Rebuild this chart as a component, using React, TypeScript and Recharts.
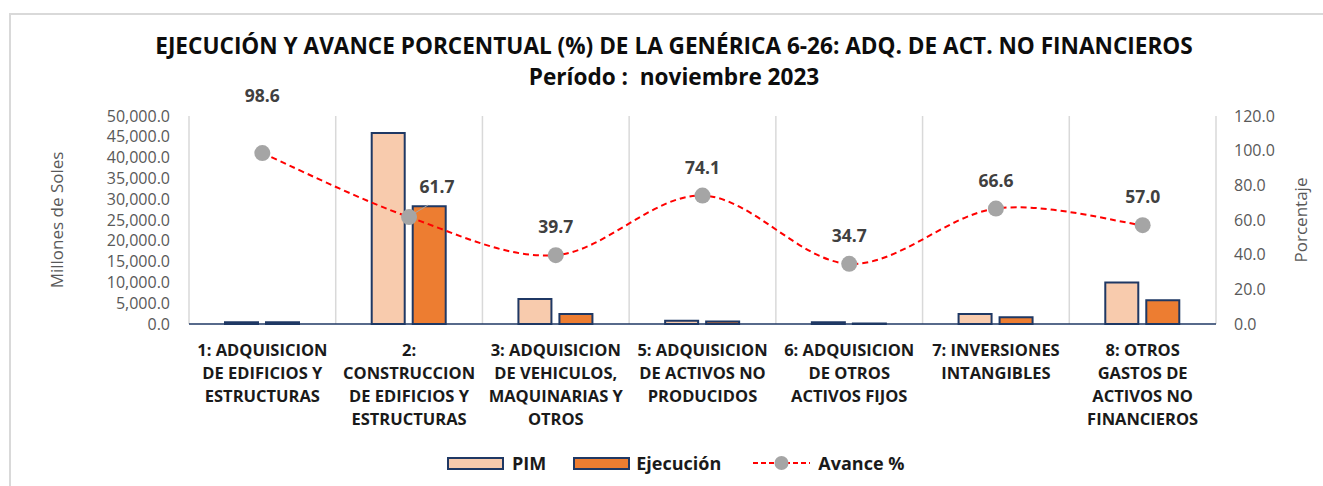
import React from 'react';
import { ComposedChart, Bar, Line, XAxis, YAxis, CartesianGrid, Legend, LabelList } from 'recharts';

const categories = [
  '1: ADQUISICION DE EDIFICIOS Y ESTRUCTURAS',
  '2: CONSTRUCCION DE EDIFICIOS Y ESTRUCTURAS',
  '3: ADQUISICION DE VEHICULOS, MAQUINARIAS Y OTROS',
  '5: ADQUISICION DE ACTIVOS NO PRODUCIDOS',
  '6: ADQUISICION DE OTROS ACTIVOS FIJOS',
  '7: INVERSIONES INTANGIBLES',
  '8: OTROS GASTOS DE ACTIVOS NO FINANCIEROS',
];
const categoryLines = [
  ['1: ADQUISICION', 'DE EDIFICIOS Y', 'ESTRUCTURAS'],
  ['2:', 'CONSTRUCCION', 'DE EDIFICIOS Y', 'ESTRUCTURAS'],
  ['3: ADQUISICION', 'DE VEHICULOS,', 'MAQUINARIAS Y', 'OTROS'],
  ['5: ADQUISICION', 'DE ACTIVOS NO', 'PRODUCIDOS'],
  ['6: ADQUISICION', 'DE OTROS', 'ACTIVOS FIJOS'],
  ['7: INVERSIONES', 'INTANGIBLES'],
  ['8: OTROS', 'GASTOS DE', 'ACTIVOS NO', 'FINANCIEROS'],
];
const pim = [400, 45900, 6000, 800, 400, 2400, 10000];
const ejecucion = [395, 28300, 2380, 590, 140, 1600, 5700];
const avance = [98.6, 61.7, 39.7, 74.1, 34.7, 66.6, 57.0];
const leftTicks = [0, 5000, 10000, 15000, 20000, 25000, 30000, 35000, 40000, 45000, 50000];
const rightTicks = [0, 20, 40, 60, 80, 100, 120];

const data = categories.map((name, i) => ({
  name,
  lines: categoryLines[i],
  pim: pim[i],
  ejecucion: ejecucion[i],
  avance: avance[i],
}));

const FONT = '"Open Sans", sans-serif';

// Excel-like smoothed line (Catmull-Rom style cardinal spline)
function excelCurve(context: any) {
  let pts: [number, number][] = [];
  return {
    areaStart() {},
    areaEnd() {},
    lineStart() {
      pts = [];
    },
    lineEnd() {
      if (!pts.length) return;
      context.moveTo(pts[0][0], pts[0][1]);
      const k = 1 / 6;
      for (let i = 0; i < pts.length - 1; i++) {
        const p0 = pts[Math.max(0, i - 1)];
        const p1 = pts[i];
        const p2 = pts[i + 1];
        const p3 = pts[Math.min(pts.length - 1, i + 2)];
        context.bezierCurveTo(
          p1[0] + k * (p2[0] - p0[0]),
          p1[1] + k * (p2[1] - p0[1]),
          p2[0] - k * (p3[0] - p1[0]),
          p2[1] - k * (p3[1] - p1[1]),
          p2[0],
          p2[1]
        );
      }
    },
    point(x: number, y: number) {
      pts.push([+x, +y]);
    },
  };
}

const CategoryTick = (props: any) => {
  const { x, y, payload, index } = props;
  const lines = categoryLines[index] || [String(payload.value)];
  return (
    <text x={x} y={y + 24} textAnchor="middle" fill="#1a1a1a" fontSize={16.5} fontWeight={700} fontFamily={FONT}>
      {lines.map((l: string, i: number) => (
        <tspan key={i} x={x} dy={i === 0 ? 0 : 23}>
          {l}
        </tspan>
      ))}
    </text>
  );
};

const AvanceLabel = (props: any) => {
  const { x, y, value, index } = props;
  let dx = 0;
  let dy = -28;
  if (index === 0) dy = -57;
  if (index === 1) {
    dx = 28;
    dy = -30;
  }
  return (
    <g>
      {index === 1 && (
        <line x1={x + 4} y1={y - 3} x2={x + 19} y2={y - 12} stroke="#a5a5a5" strokeWidth={1} />
      )}
      <text
        x={x + dx}
        y={y + dy}
        dy="0.35em"
        textAnchor="middle"
        fill="#404040"
        fontSize={17.5}
        fontWeight={700}
        fontFamily={FONT}
      >
        {Number(value).toFixed(1)}
      </text>
    </g>
  );
};

const LegendContent = () => {
  const txt: React.CSSProperties = { fontFamily: FONT, fontWeight: 700, fontSize: 18, color: '#1a1a1a', lineHeight: '26px' };
  const sw = (bg: string): React.CSSProperties => ({
    width: 53,
    height: 9,
    background: bg,
    border: '2px solid #1f3864',
  });
  return (
    <div style={{ display: 'flex', alignItems: 'center', height: 26 }}>
      <div style={sw('#f8cbad')} />
      <span style={{ ...txt, marginLeft: 8 }}>PIM</span>
      <div style={{ ...sw('#ed7d31'), marginLeft: 27 }} />
      <span style={{ ...txt, marginLeft: 6 }}>Ejecución</span>
      <svg width={57} height={18} style={{ marginLeft: 32 }}>
        <line x1={0} y1={9} x2={57} y2={9} stroke="#ff0000" strokeWidth={2} strokeDasharray="5 3" />
        <circle cx={28.5} cy={9} r={7} fill="#a5a5a5" />
      </svg>
      <span style={{ ...txt, marginLeft: 8 }}>Avance %</span>
    </div>
  );
};

const fmt = (v: number) => v.toLocaleString('en-US', { minimumFractionDigits: 1, maximumFractionDigits: 1 });

export default function App() {
  return (
    <div
      style={{
        position: 'absolute',
        left: 0,
        top: 0,
        width: 1323,
        height: 486,
        overflow: 'hidden',
        background: '#fff',
      }}
    >
      <div
        style={{
          position: 'absolute',
          left: 9,
          top: 13,
          width: 1330,
          height: 500,
          borderLeft: '2px solid #d9d9d9',
          borderTop: '2px solid #d9d9d9',
        }}
      />
      <div
        style={{
          position: 'absolute',
          left: 0,
          width: 1348,
          top: 30,
          textAlign: 'center',
          fontFamily: FONT,
          fontWeight: 700,
          fontSize: 22.6,
          lineHeight: '31px',
          color: '#0d0d0d',
        }}
      >
        <div>EJECUCIÓN Y AVANCE PORCENTUAL (%) DE LA GENÉRICA 6-26: ADQ. DE ACT. NO FINANCIEROS</div>
        <div>Período :&nbsp; noviembre 2023</div>
      </div>
      <div style={{ position: 'absolute', left: 0, top: 0 }}>
        <ComposedChart
          width={1323}
          height={486}
          data={data}
          margin={{ top: 116, right: 0, bottom: 10, left: 0 }}
          barGap={8}
          style={{ fontFamily: FONT }}
        >
          <CartesianGrid
            yAxisId="left"
            horizontal={false}
            stroke="#d9d9d9"
            strokeWidth={1.5}
            verticalCoordinatesGenerator={({ offset }: any) =>
              Array.from({ length: 8 }, (_, i) => offset.left + (i * offset.width) / 7)
            }
          />
          <XAxis
            dataKey="name"
            height={126}
            interval={0}
            tickLine={false}
            axisLine={{ stroke: '#1f3864', strokeWidth: 1.5 }}
            tick={<CategoryTick />}
          />
          <YAxis
            yAxisId="left"
            domain={[0, 50000]}
            ticks={leftTicks}
            interval={0}
            width={189}
            axisLine={false}
            tickLine={false}
            tickMargin={13}
            tickFormatter={fmt}
            tick={{ fill: '#595959', fontSize: 16, fontFamily: FONT }}
            label={(p: any) => {
              const vb = p.viewBox || {};
              const cx = 56;
              const cy = (vb.y || 116) + (vb.height || 208) / 2;
              return (
                <text
                  x={cx}
                  y={cy}
                  transform={`rotate(-90 ${cx} ${cy})`}
                  textAnchor="middle"
                  dominantBaseline="central"
                  fill="#595959"
                  fontSize={17}
                  fontFamily={FONT}
                >
                  Millones de Soles
                </text>
              );
            }}
          />
          <YAxis
            yAxisId="right"
            orientation="right"
            domain={[0, 120]}
            ticks={rightTicks}
            interval={0}
            width={107}
            axisLine={false}
            tickLine={false}
            tickMargin={12}
            tickFormatter={fmt}
            tick={{ fill: '#595959', fontSize: 16, fontFamily: FONT }}
            label={(p: any) => {
              const vb = p.viewBox || {};
              const cx = 1300;
              const cy = (vb.y || 116) + (vb.height || 208) / 2;
              return (
                <text
                  x={cx}
                  y={cy}
                  transform={`rotate(-90 ${cx} ${cy})`}
                  textAnchor="middle"
                  dominantBaseline="central"
                  fill="#595959"
                  fontSize={17}
                  fontFamily={FONT}
                >
                  Porcentaje
                </text>
              );
            }}
          />
          <Legend
            verticalAlign="bottom"
            content={<LegendContent />}
            wrapperStyle={{ left: 447, width: 560, height: 26 }}
          />
          <Bar
            yAxisId="left"
            dataKey="pim"
            name="PIM"
            fill="#f8cbad"
            stroke="#1f3864"
            strokeWidth={2}
            barSize={33}
            isAnimationActive={false}
          />
          <Bar
            yAxisId="left"
            dataKey="ejecucion"
            name="Ejecución"
            fill="#ed7d31"
            stroke="#1f3864"
            strokeWidth={2}
            barSize={33}
            isAnimationActive={false}
          />
          <Line
            yAxisId="right"
            dataKey="avance"
            name="Avance %"
            type={excelCurve as any}
            stroke="#ff0000"
            strokeWidth={2}
            strokeDasharray="6 4"
            dot={{ r: 8, fill: '#a5a5a5', stroke: 'none' }}
            activeDot={false}
            isAnimationActive={false}
          >
            <LabelList dataKey="avance" content={<AvanceLabel />} />
          </Line>
        </ComposedChart>
      </div>
    </div>
  );
}
